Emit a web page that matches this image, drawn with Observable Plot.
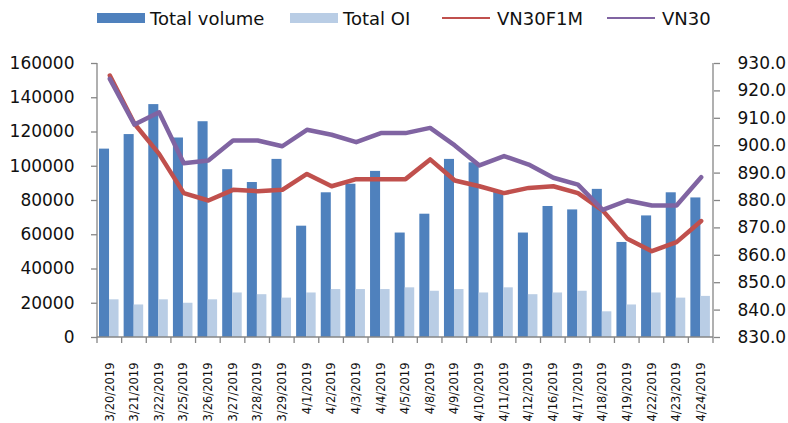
<!DOCTYPE html>
<html><head><meta charset="utf-8">
<script src="https://cdn.jsdelivr.net/npm/d3@7"></script>
<script src="https://cdn.jsdelivr.net/npm/@observablehq/plot@0.6"></script>
<style>
body{margin:0;background:#fff;font-family:"DejaVu Sans",Verdana,sans-serif;}
#legend{position:relative;width:788px;height:36px;font-size:18px;color:#111;}
.item{position:absolute;top:0;height:36px;display:flex;align-items:center;white-space:nowrap;}
.sw{width:48px;height:10px;margin-right:5px;}
.ln{width:48px;height:2.5px;margin-right:7px;}
</style></head><body>
<div id="legend"></div><div id="chart"></div>
<script>
const dates = ["3/20/2019","3/21/2019","3/22/2019","3/25/2019","3/26/2019","3/27/2019","3/28/2019","3/29/2019","4/1/2019","4/2/2019","4/3/2019","4/4/2019","4/5/2019","4/8/2019","4/9/2019","4/10/2019","4/11/2019","4/12/2019","4/16/2019","4/17/2019","4/18/2019","4/19/2019","4/22/2019","4/23/2019","4/24/2019"];
const totalVolume = [110000,118500,136000,116500,126000,98000,90500,104000,65000,84500,89500,97000,61000,72000,104000,102000,85000,61000,76500,74500,86500,55500,71000,84500,81500];
const totalOI = [22000,19000,22000,20000,22000,26000,25000,23000,26000,28000,28000,28000,29000,27000,28000,26000,29000,25000,26000,27000,15000,19000,26000,23000,24000];
const vn30f1m = [925.6,908.0,897.0,882.7,880.0,883.9,883.4,883.9,889.7,885.2,887.8,887.8,887.8,895.0,887.3,885.2,882.7,884.6,885.2,882.7,876.4,866.0,861.5,864.8,872.5];
const vn30 = [924.4,907.7,912.2,893.6,894.6,901.9,901.9,899.8,905.8,904.0,901.3,904.6,904.6,906.5,900.1,892.8,896.2,893.1,888.3,885.8,876.6,880.0,878.2,878.2,888.5];
const leftTicks = [0,20000,40000,60000,80000,100000,120000,140000,160000];
const rightTicks = [830,840,850,860,870,880,890,900,910,920,930];
const seriesNames = ["Total volume","Total OI","VN30F1M","VN30"];
const colors = ["#4F81BD","#B9CDE5","#C0504D","#8064A2"];

const leftMax = 160000, rMin = 830, rMax = 930;
const toLeft = v => (v - rMin) / (rMax - rMin) * leftMax;
const fromLeft = v => rMin + v / leftMax * (rMax - rMin);

const rows = dates.map((d, i) => ({date: d, vol: totalVolume[i], oi: totalOI[i], f1m: vn30f1m[i], vn30: vn30[i]}));

// legend
const legendLefts = [97, 290, 442, 607];
const legend = document.getElementById("legend");
seriesNames.forEach((name, i) => {
  const it = document.createElement("div");
  it.className = "item";
  it.style.left = legendLefts[i] + "px";
  const sw = document.createElement("div");
  sw.className = i < 2 ? "sw" : "ln";
  sw.style.background = colors[i];
  const tx = document.createElement("span");
  tx.textContent = name;
  it.appendChild(sw); it.appendChild(tx);
  legend.appendChild(it);
});

const frameLines = (index, scales, values, dims) => {
  const g = d3.create("svg:g").attr("stroke", "#868686").attr("stroke-width", 1.3).attr("fill", "none");
  const x0 = dims.marginLeft, x1 = dims.width - dims.marginRight;
  const y0 = dims.marginTop, y1 = dims.height - dims.marginBottom;
  g.append("line").attr("x1", x0).attr("x2", x0).attr("y1", y0).attr("y2", y1);
  g.append("line").attr("x1", x1).attr("x2", x1).attr("y1", y0).attr("y2", y1);
  g.append("line").attr("x1", x0).attr("x2", x1).attr("y1", y1).attr("y2", y1);
  const n = dates.length, step = (x1 - x0) / n;
  for (let i = 0; i <= n; i++) {
    const x = x0 + i * step;
    g.append("line").attr("x1", x).attr("x2", x).attr("y1", y1).attr("y2", y1 + 6);
  }
  return g.node();
};

const chart = Plot.plot({
  width: 788, height: 387,
  marginLeft: 97, marginRight: 75, marginTop: 27, marginBottom: 86,
  style: {fontFamily: "'DejaVu Sans', Verdana, sans-serif", fontSize: "17px", color: "#111", background: "white", overflow: "visible"},
  x: {type: "band", domain: dates, padding: 0, round: false, label: null},
  y: {domain: [0, leftMax], label: null},
  marks: [
    Plot.barY(rows, {x: "date", y: "vol", fill: colors[0], insetLeft: 2, insetRight: 12.6}),
    Plot.barY(rows, {x: "date", y: "oi", fill: colors[1], insetLeft: 12, insetRight: 3.1}),
    frameLines,
    Plot.axisY(leftTicks, {anchor: "left", tickSize: 6, tickPadding: 17, stroke: "#868686", strokeWidth: 1.3, fill: "#111", tickFormat: d => String(d), fontSize: 17, label: null}),
    Plot.axisY(rightTicks.map(toLeft), {anchor: "right", tickSize: 6, tickPadding: 18, stroke: "#868686", strokeWidth: 1.3, fill: "#111", tickFormat: v => fromLeft(v).toFixed(1), fontSize: 17, label: null}),
    Plot.axisX({anchor: "bottom", tickSize: 0, tickPadding: 25, tickRotate: -90, fontSize: 11.5, fill: "#111", label: null}),
    Plot.line(rows, {x: "date", y: d => toLeft(d.f1m), stroke: colors[2], strokeWidth: 4.5, strokeLinejoin: "round", strokeLinecap: "round"}),
    Plot.line(rows, {x: "date", y: d => toLeft(d.vn30), stroke: colors[3], strokeWidth: 4.5, strokeLinejoin: "round", strokeLinecap: "round"})
  ]
});
document.getElementById("chart").appendChild(chart);
</script>
</body></html>
